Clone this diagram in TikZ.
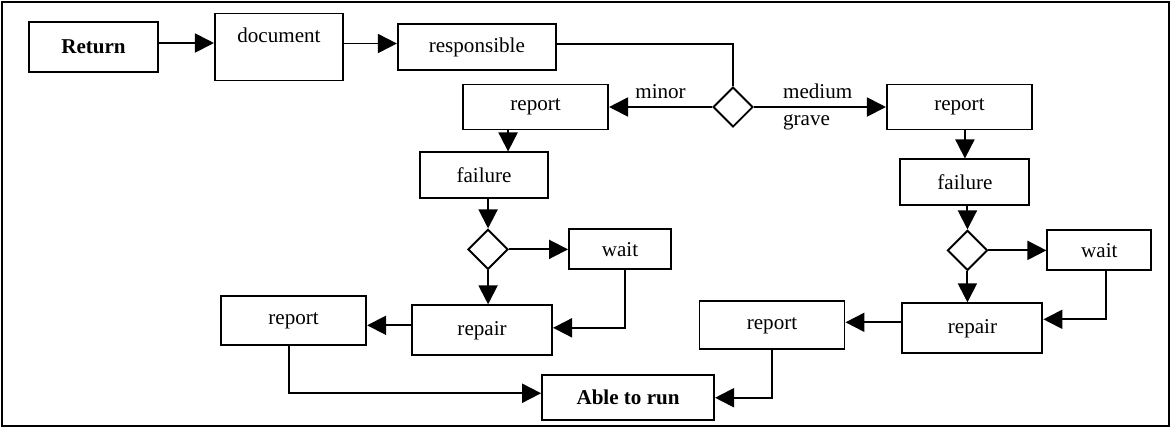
\documentclass[tikz,border=0pt]{standalone}
\usepackage{fontspec}
\setmainfont{Liberation Serif}
\usetikzlibrary{positioning,shapes.geometric,arrows.meta}

\begin{document}
\begin{tikzpicture}[
  every node/.style={font=\large},
  box/.style={rectangle, draw, line width=1.1pt, align=center, inner sep=2pt},
  docbox/.style={box, text height=0.48cm, text depth=0.66cm, inner ysep=0.1cm},
  dia/.style={diamond, draw, line width=1.1pt, minimum width=0.8cm,
              minimum height=0.8cm, inner sep=0pt},
  lbl/.style={inner sep=4pt},
  arr/.style={-{Triangle[length=0.38cm,width=0.38cm]}, line width=1.1pt},
  link/.style={line width=1.1pt},
  frame/.style={line width=0.8pt}
]

\useasboundingbox (0,0) rectangle (23.48,-8.56);
\draw[frame] (0.04,-0.04) rectangle (23.38,-8.52);

\node[box, minimum width=2.58cm, minimum height=1cm] (Ret) at (1.87,-0.94) {\textbf{Return}};
\node[docbox, minimum width=2.56cm, right=1.1cm of Ret]                  (Doc)  {document};
\node[box, minimum width=3.16cm, minimum height=0.92cm, right=1.06cm of Doc] (Resp) {responsible};

\node[dia] (D1) at (14.66,-2.14) {};
\node[box, minimum width=2.9cm, minimum height=0.9cm, left=2.06cm of D1]  (RepL) {report};
\node[box, minimum width=2.9cm, minimum height=0.9cm, right=2.64cm of D1] (RepR) {report};

\node[box, minimum width=2.56cm, minimum height=0.92cm, below=0.42cm of RepL, xshift=-1.03cm] (FailL) {failure};
\node[box, minimum width=2.58cm, minimum height=0.92cm, below=0.56cm of RepR, xshift=0.11cm]  (FailR) {failure};

\node[dia, below=0.58cm of FailL, xshift=0.08cm] (D2) {};
\node[dia, below=0.46cm of FailR, xshift=0.05cm] (D3) {};

\node[box, minimum width=2.04cm, minimum height=0.8cm, right=1.18cm of D2] (Wait1) {wait};
\node[box, minimum width=2.08cm, minimum height=0.8cm, right=1.16cm of D3] (Wait2) {wait};

\node[box, minimum width=2.8cm, minimum height=1cm, below=0.68cm of D2, xshift=-0.12cm] (Rep1) {repair};
\node[box, minimum width=2.8cm, minimum height=1cm, below=0.62cm of D3, xshift=0.1cm]   (Rep2) {repair};

\node[box, minimum width=2.9cm, minimum height=0.98cm, left=0.88cm of Rep1, yshift=0.2cm]  (Rpt3) {report};
\node[box, minimum width=2.9cm, minimum height=0.96cm, left=1.12cm of Rep2, yshift=0.06cm] (Rpt4) {report};

\node[box, minimum width=3.44cm, minimum height=0.9cm, below=0.36cm of Rep1, xshift=2.92cm] (Able) {\textbf{Able to run}};

\draw[arr]  ([yshift=0.08cm]Ret.east) -- ([yshift=0.08cm]Ret.east -| Doc.west);
\draw[arr]  ([yshift=0.07cm]Doc.east) -- ([yshift=0.07cm]Doc.east -| Resp.west);
\draw[link] ([yshift=0.06cm]Resp.east) -| (D1.north);
\draw[arr]  (D1.west) -- node[lbl, above] {minor} (RepL.east);
\draw[arr]  (D1.east) -- node[lbl, pos=0.16, anchor=south west] {medium}
                         node[lbl, pos=0.16, anchor=north west] {grave} (RepR.west);

\draw[arr] ([xshift=-0.55cm]RepL.south) -- ([xshift=-0.55cm]RepL.south |- FailL.north);
\draw[arr] (FailL.south -| D2.north) -- (D2.north);
\draw[arr] (D2.east) -- (Wait1.west);
\draw[arr] (D2.south) -- (D2.south |- Rep1.north);
\draw[arr] ([xshift=0.1cm]Wait1.south) |- ([yshift=0.05cm]Rep1.east);
\draw[arr] ([yshift=0.1cm]Rep1.west) -- ([yshift=0.1cm]Rep1.west -| Rpt3.east);
\draw[arr] ([xshift=-0.1cm]Rpt3.south) |- ([yshift=0.09cm]Able.west);

\draw[arr] (FailR.north |- RepR.south) -- (FailR.north);
\draw[arr] (D3.north |- FailR.south) -- (D3.north);
\draw[arr] (D3.east) -- (Wait2.west);
\draw[arr] (D3.south) -- (D3.south |- Rep2.north);
\draw[arr] ([xshift=0.14cm]Wait2.south) |- ([yshift=0.18cm]Rep2.east);
\draw[arr] ([yshift=0.12cm]Rep2.west) -- ([yshift=0.12cm]Rep2.west -| Rpt4.east);
\draw[arr] (Rpt4.south) |- (Able.east);

\end{tikzpicture}
\end{document}
